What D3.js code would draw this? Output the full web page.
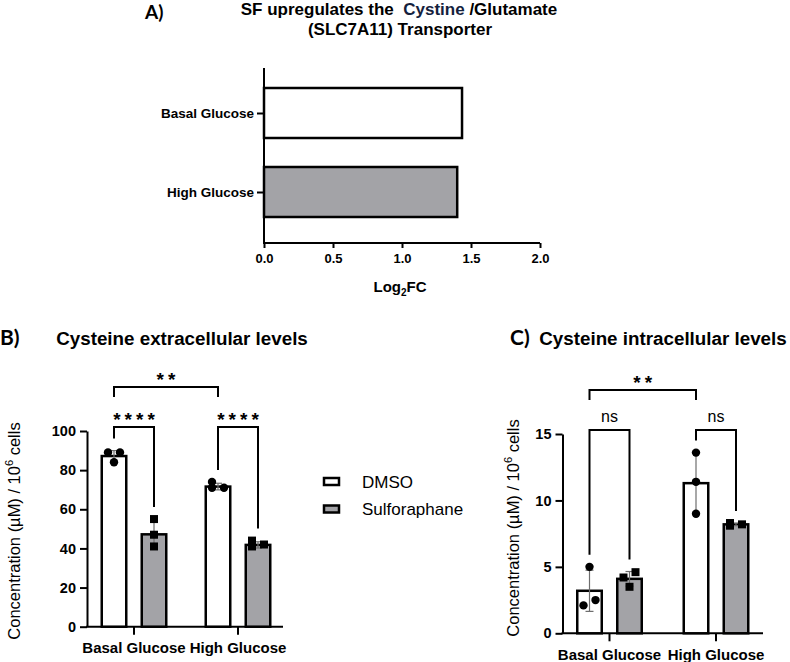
<!DOCTYPE html>
<html><head><meta charset="utf-8">
<script src="https://cdn.jsdelivr.net/npm/d3@7"></script>
<style>body{margin:0;background:#fff} svg{display:block}</style>
</head><body>
<svg id="c" width="790" height="662"></svg>
<script>
// ---------- DATA ----------
// Panel A
const aCategories = ["Basal Glucose", "High Glucose"];
const aValues = [1.435, 1.40];
const aTicks = [0, 0.5, 1.0, 1.5, 2.0];
// Panels B and C
const groups = ["Basal Glucose", "High Glucose"];
const series = ["DMSO", "Sulforaphane"];
const bTicks = [0, 20, 40, 60, 80, 100];
const bDmsoMean = [87.2, 71.6];
const bDmsoSd = [2.8, 1.7];
const bDmsoPoints = [[89, 84, 89], [74, 71, 71]];
const bSfMean = [47.2, 41.8];
const bSfSd = [7.0, 1.6];
const bSfPoints = [[55, 47, 41], [44, 41, 42]];
const cTicks = [0, 5, 10, 15];
const cDmsoMean = [3.2, 11.3];
const cDmsoSd = [1.55, 2.3];
const cDmsoPoints = [[5.0, 2.1, 2.5], [13.6, 11.4, 9.0]];
const cSfMean = [4.1, 8.2];
const cSfSd = [0.55, 0.1];
const cSfPoints = [[4.6, 3.5, 4.2], [8.1, 8.3, 8.2]];
const bComparisons = [
  {a: [0, 0], b: [0, 1], label: "****", level: 0},
  {a: [1, 0], b: [1, 1], label: "****", level: 0},
  {a: [0, 0], b: [1, 0], label: "**", level: 1}
];
const cComparisons = [
  {a: [0, 0], b: [0, 1], label: "ns", level: 0},
  {a: [1, 0], b: [1, 1], label: "ns", level: 0},
  {a: [0, 0], b: [1, 0], label: "**", level: 1}
];

// ---------- STYLE ----------
const FONT = "'Liberation Sans', Arial, sans-serif";
const GRAY = "#a3a3a7";
const svg = d3.select("#c").style("font-family", FONT);

function styleAxis(g, size, weight) {
  g.attr("font-family", null);
  g.selectAll("text").style("font-size", size + "px").style("font-weight", weight)
   .style("font-family", FONT).attr("fill", "#000");
  g.selectAll("line").attr("stroke", "#000").attr("stroke-width", 2);
  g.selectAll("path.domain").attr("stroke", "#000").attr("stroke-width", 2);
}

// ---------- PANEL A ----------
svg.append("text").attr("x", 145).attr("y", 19).text("A)")
  .style("font-family", "Lato, 'Open Sans', sans-serif").style("font-weight", 700).style("font-size", "19px");
const tA = svg.append("text").attr("x", 399).attr("y", 15).attr("text-anchor", "middle")
  .style("font-weight", 700).style("font-size", "17px");
tA.append("tspan").text("SF upregulates the\u00a0\u00a0");
tA.append("tspan").attr("fill", "#14213d").text("Cystine");
tA.append("tspan").text(" /Glutamate");
svg.append("text").attr("x", 400).attr("y", 35).attr("text-anchor", "middle")
  .style("font-weight", 700).style("font-size", "17px").text("(SLC7A11) Transporter");

const ax = d3.scaleLinear().domain([0, 2]).range([264, 540]);
const ay = d3.scalePoint().domain(aCategories).range([113, 192]);
const aBarH = 50;
const aTop = 68, aBottom = 243;

svg.append("g").selectAll("rect").data(aCategories).join("rect")
  .attr("x", ax(0)).attr("y", d => ay(d) - aBarH / 2)
  .attr("width", (d, i) => ax(aValues[i]) - ax(0)).attr("height", aBarH)
  .attr("fill", (d, i) => i === 0 ? "#fff" : GRAY)
  .attr("stroke", "#000").attr("stroke-width", 2.5);

const gAx = svg.append("g").attr("transform", `translate(0,${aBottom})`)
  .call(d3.axisBottom(ax).tickValues(aTicks).tickFormat(d3.format(".1f")).tickSize(5).tickSizeOuter(0).tickPadding(6));
styleAxis(gAx, 13, 700);
gAx.select("path.domain").remove();
const gAy = svg.append("g").attr("transform", `translate(${ax(0)},0)`)
  .call(d3.axisLeft(ay).tickSize(7).tickPadding(3));
styleAxis(gAy, 13.5, 700);
gAy.select("path.domain").remove();
svg.append("line").attr("x1", ax(0)).attr("x2", ax(0)).attr("y1", aTop).attr("y2", aBottom + 1)
  .attr("stroke", "#000").attr("stroke-width", 2);
svg.append("line").attr("x1", ax(0) - 1).attr("x2", ax(2)).attr("y1", aBottom).attr("y2", aBottom)
  .attr("stroke", "#000").attr("stroke-width", 2);
const lA = svg.append("text").attr("x", 400).attr("y", 292).attr("text-anchor", "middle")
  .style("font-weight", 700).style("font-size", "15px");
lA.append("tspan").text("Log");
lA.append("tspan").attr("dy", 4).style("font-size", "10px").text("2");
lA.append("tspan").attr("dy", -4).text("FC");

// ---------- GROUPED PANELS ----------
function beeswarm(vals, y) {
  const idx = vals.map((v, i) => i).sort((p, q) => vals[p] - vals[q]);
  const off = new Array(vals.length).fill(0);
  let cluster = [idx[0]];
  const flush = () => {
    if (cluster.length > 1) cluster.forEach((k, j) => off[k] = j % 2 === 0 ? -6 : 6);
  };
  for (let j = 1; j < idx.length; j++) {
    if (Math.abs(y(vals[idx[j]]) - y(vals[cluster[cluster.length - 1]])) < 7) cluster.push(idx[j]);
    else { flush(); cluster = [idx[j]]; }
  }
  flush();
  return off;
}

function panel(cfg) {
  const y = d3.scaleLinear().domain(cfg.domain).range([cfg.y0, cfg.y1]);
  const x0 = d3.scaleBand().domain(groups).range(cfg.xr).padding(0);
  const x1 = d3.scaleBand().domain(series).range([-40, 40]).padding(0);
  const bw = 24.5;
  const means = [cfg.dm, cfg.sm], sds = [cfg.dsd, cfg.ssd], pts = [cfg.dp, cfg.sp];
  const cx = (gi, si) => x0(groups[gi]) + x0.bandwidth() / 2 + x1(series[si]) + x1.bandwidth() / 2;

  // axes
  const gy = svg.append("g").attr("transform", `translate(${cfg.axisX},0)`)
    .call(d3.axisLeft(y).tickValues(cfg.ticks).tickSize(7).tickSizeOuter(0).tickPadding(4));
  styleAxis(gy, 14.5, 700);
  const gx = svg.append("g").attr("transform", `translate(0,${cfg.y0})`)
    .call(d3.axisBottom(x0).tickSize(8).tickSizeOuter(0).tickPadding(4));
  styleAxis(gx, 15, 700);
  gx.select("path.domain").remove();
  gx.selectAll("text").attr("dy", cfg.labelDy);
  svg.append("line").attr("x1", cfg.axisX - 1).attr("x2", cfg.axisEnd).attr("y1", cfg.y0).attr("y2", cfg.y0)
    .attr("stroke", "#000").attr("stroke-width", 2);

  // bars, error bars, points
  const items = [];
  groups.forEach((g, gi) => series.forEach((s, si) => items.push({gi, si})));
  const gb = svg.append("g");
  gb.selectAll("rect").data(items).join("rect")
    .attr("x", d => cx(d.gi, d.si) - bw / 2).attr("width", bw)
    .attr("y", d => y(means[d.si][d.gi])).attr("height", d => y(0) - y(means[d.si][d.gi]))
    .attr("fill", d => d.si === 0 ? "#fff" : GRAY).attr("stroke", "#000").attr("stroke-width", 2.5);
  items.forEach(d => {
    const m = means[d.si][d.gi], s = sds[d.si][d.gi], c = cx(d.gi, d.si);
    const e = gb.append("g").attr("stroke", "#6e6e6e").attr("stroke-width", 1.2);
    e.append("line").attr("x1", c).attr("x2", c).attr("y1", y(m - s)).attr("y2", y(m + s));
    e.append("line").attr("x1", c - 4).attr("x2", c + 4).attr("y1", y(m + s)).attr("y2", y(m + s));
    e.append("line").attr("x1", c - 4).attr("x2", c + 4).attr("y1", y(m - s)).attr("y2", y(m - s));
    const vals = pts[d.si][d.gi];
    const off = beeswarm(vals, y);
    vals.forEach((v, k) => {
      if (d.si === 0) gb.append("circle").attr("cx", c + off[k]).attr("cy", y(v)).attr("r", 4.2).attr("fill", "#000");
      else gb.append("rect").attr("x", c + off[k] - 4).attr("y", y(v) - 4).attr("width", 8).attr("height", 8).attr("fill", "#000");
    });
  });

  // significance brackets
  const top = (gi, si) => {
    const vals = pts[si][gi];
    return Math.max(d3.max(vals), means[si][gi] + sds[si][gi]);
  };
  cfg.comps.forEach(cp => {
    const xa = cx(cp.a[0], cp.a[1]), xb = cx(cp.b[0], cp.b[1]);
    const yt = cp.level === 0 ? y(cfg.domain[1]) - 4 : y(cfg.domain[1]) - 44;
    const ya = cp.level === 0 ? y(top(cp.a[0], cp.a[1])) - 12 : yt + 10;
    const yb = cp.level === 0 ? y(top(cp.b[0], cp.b[1])) - 12 : yt + 10;
    svg.append("path").attr("d", `M${xa},${ya}V${yt}H${xb}V${yb}`)
      .attr("fill", "none").attr("stroke", "#000").attr("stroke-width", 2);
    const isStar = cp.label.indexOf("*") >= 0;
    svg.append("text").attr("x", (xa + xb) / 2 + (isStar ? 2 : 0)).attr("y", isStar ? yt - 1 : yt - 8)
      .attr("text-anchor", "middle")
      .style("font-size", isStar ? "19px" : "16px").style("font-weight", isStar ? 700 : 400)
      .style("letter-spacing", isStar ? "4px" : "0px").text(cp.label);
  });

  // titles
  svg.append("text").attr("x", cfg.tagX).attr("y", 345).text(cfg.tag)
    .style("font-family", "Lato, 'Open Sans', sans-serif").style("font-weight", 700).style("font-size", "21px");
  svg.append("text").attr("x", cfg.titleX).attr("y", 345).attr("text-anchor", "middle")
    .style("font-weight", 700).style("font-size", "18.8px").text(cfg.title);
  const yl = svg.append("text").attr("transform", `translate(${cfg.ylX},${cfg.ylY}) rotate(-90)`)
    .attr("text-anchor", "middle").style("font-size", "16.5px");
  yl.append("tspan").text("Concentration (\u00b5M) / 10");
  yl.append("tspan").attr("dy", -7).style("font-size", "11px").text("6");
  yl.append("tspan").attr("dy", 7).text(" cells");
}

panel({domain: [0, 100], ticks: bTicks, y0: 626.7, y1: 431, xr: [82, 290], axisX: 87, axisEnd: 283,
  dm: bDmsoMean, dsd: bDmsoSd, dp: bDmsoPoints, sm: bSfMean, ssd: bSfSd, sp: bSfPoints,
  comps: bComparisons, tag: "B)", tagX: 0, title: "Cysteine extracellular levels", titleX: 182,
  ylX: 20, ylY: 531, labelDy: "0.95em"});
panel({domain: [0, 15], ticks: cTicks, y0: 633.3, y1: 434, xr: [556.25, 769.25], axisX: 562.5, axisEnd: 763,
  dm: cDmsoMean, dsd: cDmsoSd, dp: cDmsoPoints, sm: cSfMean, ssd: cSfSd, sp: cSfPoints,
  comps: cComparisons, tag: "C)", tagX: 510, title: "Cysteine intracellular levels", titleX: 663,
  ylX: 519, ylY: 528, labelDy: "0.95em"});

// ---------- LEGEND ----------
const lg = svg.append("g");
series.forEach((s, i) => {
  const yy = [481.5, 509][i];
  lg.append("rect").attr("x", 324).attr("y", yy - 3.5).attr("width", 15).attr("height", 7)
    .attr("fill", i === 0 ? "#fff" : GRAY).attr("stroke", "#000").attr("stroke-width", 2.5);
  lg.append("text").attr("x", 362).attr("y", yy + 6).style("font-size", "17px").text(s);
});
</script>
</body></html>
